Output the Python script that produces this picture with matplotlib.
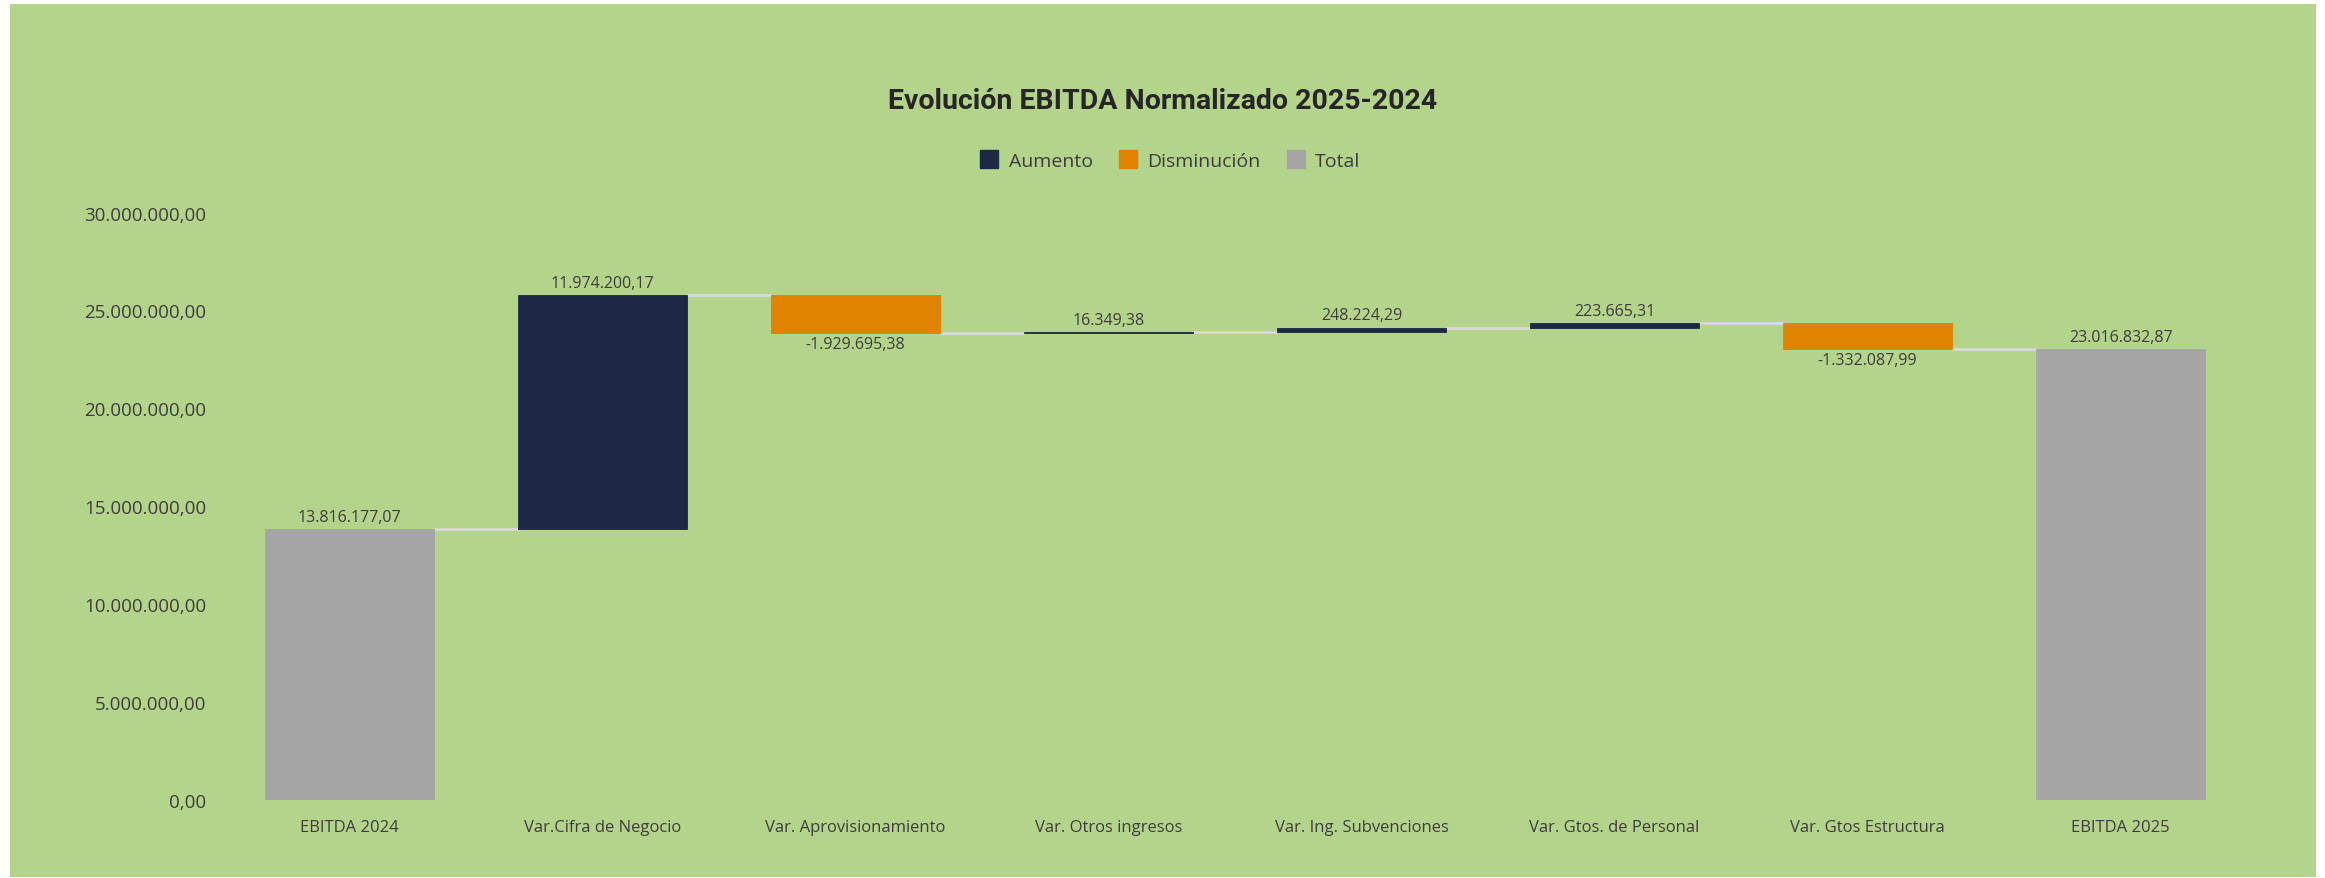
import matplotlib
matplotlib.use("Agg")
import matplotlib.pyplot as plt
from matplotlib.patches import Rectangle
from matplotlib.lines import Line2D
import numpy as np

# datos del grafico (EBITDA normalizado)
categorias = ["EBITDA 2024", "Var.Cifra de Negocio", "Var. Aprovisionamiento",
              "Var. Otros ingresos", "Var. Ing. Subvenciones", "Var. Gtos. de Personal",
              "Var. Gtos Estructura", "EBITDA 2025"]
valores = [13816177.07, 11974200.17, -1929695.38, 16349.38,
           248224.29, 223665.31, -1332087.99, 23016832.87]
es_total = [True, False, False, False, False, False, False, True]
ticks_y = [0, 5e6, 10e6, 15e6, 20e6, 25e6, 30e6]

C_AUM = "#1d2944"
C_DIS = "#e08300"
C_TOT = "#a5a5a5"
C_FONDO = "#b4d48c"
C_TXT = "#3d3d3d"
C_CONN = "#d9d9d9"

FUENTE = ["Open Sans", "DejaVu Sans"]
TITULO = ["Roboto", "DejaVu Sans"]


def fmt_es(v):
    s = f"{v:,.2f}"
    return s.replace(",", "X").replace(".", ",").replace("X", ".")


fig = plt.figure(figsize=(23.25, 8.79), dpi=100, facecolor="white")
fig.patches.append(Rectangle((10 / 2325, 1 / 879), 2306 / 2325, 873 / 879,
                             transform=fig.transFigure, facecolor=C_FONDO,
                             edgecolor="none", zorder=-10))

ax = fig.add_axes([0.0959, 0.0887, 0.8706, 0.6684])
ax.set_facecolor("none")

x = np.arange(len(categorias))
ancho = 0.667
acum = 0.0
fondos, alturas, colores, niveles = [], [], [], []
for v, t in zip(valores, es_total):
    if t:
        fondos.append(0)
        alturas.append(v)
        colores.append(C_TOT)
        acum = v
    else:
        nuevo = acum + v
        fondos.append(min(acum, nuevo))
        alturas.append(abs(v))
        colores.append(C_AUM if v >= 0 else C_DIS)
        acum = nuevo
    niveles.append(acum)

ax.bar(x, alturas, bottom=fondos, width=ancho, color=colores,
       edgecolor=colores, linewidth=0.6, zorder=3)

# conectores entre barras
for i in range(len(x) - 1):
    ax.plot([x[i] + ancho / 2, x[i + 1] - ancho / 2], [niveles[i], niveles[i]],
            color=C_CONN, lw=2, zorder=2, solid_capstyle="butt")

# etiquetas de datos
for i, (v, t) in enumerate(zip(valores, es_total)):
    arriba = fondos[i] + alturas[i]
    if t or v >= 0:
        ax.annotate(fmt_es(v), (x[i], arriba), xytext=(0, 3), textcoords="offset points",
                    ha="center", va="bottom", fontsize=11.5, color=C_TXT, family=FUENTE)
    else:
        ax.annotate(fmt_es(v), (x[i], fondos[i]), xytext=(0, -2), textcoords="offset points",
                    ha="center", va="top", fontsize=11.5, color=C_TXT, family=FUENTE)

ax.set_xlim(-0.5, len(x) - 0.5)
ax.set_ylim(0, 30e6)
ax.set_yticks(ticks_y)
ax.set_yticklabels([fmt_es(t) for t in ticks_y], fontsize=13.5, color=C_TXT, family=FUENTE)
ax.set_xticks(x)
ax.set_xticklabels(categorias, fontsize=12, color=C_TXT, family=FUENTE)
ax.tick_params(axis="y", length=0, pad=12)
ax.tick_params(axis="x", length=0, pad=14)
for s in ax.spines.values():
    s.set_visible(False)

fig.text(0.5, 1 - 102 / 879, "Evolución EBITDA Normalizado 2025-2024", ha="center", va="center",
         fontsize=20.5, fontweight="bold", color="#262626", family=TITULO)

manejadores = [Line2D([], [], marker="s", ls="none", markersize=13, color=c)
               for c in (C_AUM, C_DIS, C_TOT)]
ley = fig.legend(manejadores, ["Aumento", "Disminución", "Total"], loc="center",
                 bbox_to_anchor=(1170 / 2325, 1 - 162 / 879), ncol=3, frameon=False,
                 handlelength=1.0, handletextpad=0.5, columnspacing=1.3,
                 prop={"family": FUENTE, "size": 14})
for t in ley.get_texts():
    t.set_color(C_TXT)

fig.savefig("out.png", dpi=100, facecolor="white")
